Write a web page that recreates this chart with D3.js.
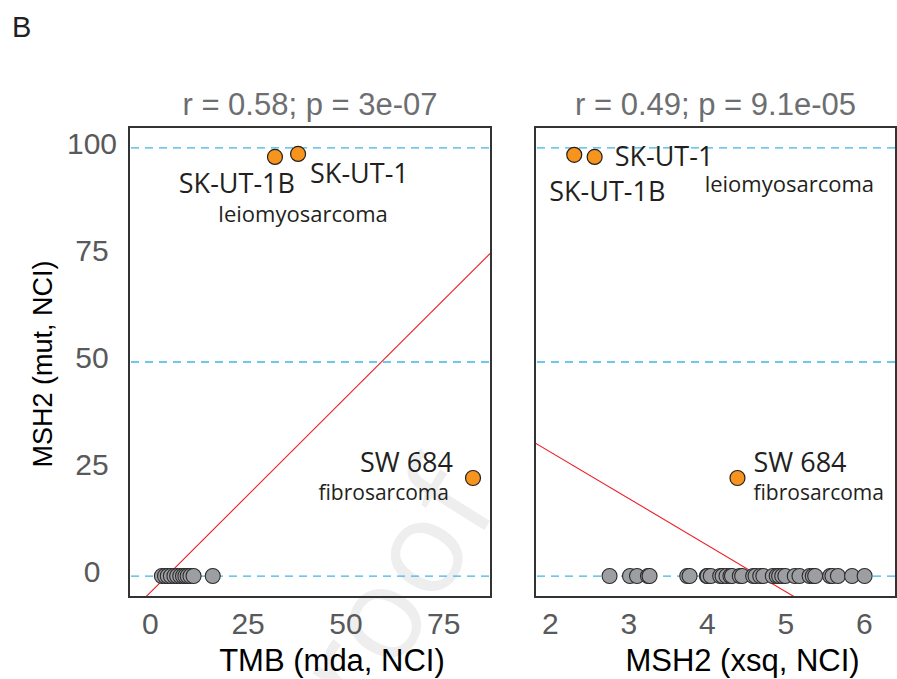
<!DOCTYPE html>
<html>
<head>
<meta charset="utf-8">
<script src="https://cdn.jsdelivr.net/npm/d3@7"></script>
<style>
  body { margin: 0; background: #fff; }
  svg text { font-family: "Liberation Sans", Arial, sans-serif; }
  .lab { font-family: "Open Sans", "Noto Sans", sans-serif !important; fill: #231f20; }
</style>
</head>
<body>
<div id="chart"></div>
<script>
// y = MSH2 mutation (NCI); left x = TMB (mda), right x = MSH2 expression (xsq)
const yTicks = [0, 25, 50, 75, 100];
const refLines = [0, 50, 100];

const tmbTicks = [0, 25, 50, 75];
const tmbGray = [3.1, 3.9, 4.6, 5.4, 6.3, 7.0, 7.8, 8.5, 9.1, 9.7, 10.4, 11.2, 16.1];
const tmbHits = [
  { name: "SK-UT-1B", x: 32.0, y: 97.9 },
  { name: "SK-UT-1", x: 37.9, y: 98.6 },
  { name: "SW 684", x: 82.6, y: 22.9 }
];
const tmbFit = { a: -3.97, b: 0.912 };
const tmbStat = "r = 0.58; p = 3e-07";

const xsqTicks = [2, 3, 4, 5, 6];
const xsqGray = [2.76, 3.02, 3.11, 3.25, 3.27, 3.75, 3.78, 4.0, 4.01, 4.05, 4.17, 4.2, 4.25,
  4.3, 4.32, 4.42, 4.45, 4.59, 4.62, 4.68, 4.72, 4.84, 4.89, 4.92, 4.96, 5.0, 5.12, 5.18,
  5.31, 5.35, 5.38, 5.57, 5.6, 5.67, 5.85, 6.01];
const xsqHits = [
  { name: "SK-UT-1B", x: 2.31, y: 98.4 },
  { name: "SK-UT-1", x: 2.57, y: 97.9 },
  { name: "SW 684", x: 4.39, y: 22.9 }
];
const xsqFit = { a: 50.8, b: -10.88 };
const xsqStat = "r = 0.49; p = 9.1e-05";

const W = 897, H = 679;
const plotTop = 127, plotBottom = 597;

const svg = d3.select("#chart").append("svg")
    .attr("width", W)
    .attr("height", H);

// faint watermark behind everything
svg.append("text")
    .attr("transform", "translate(500,505) rotate(-58)")
    .attr("text-anchor", "end")
    .style("font-size", "130px")
    .style("font-family", "'Open Sans', sans-serif")
    .style("fill", "#eeeeee")
    .text("Proof");

svg.append("text")
    .attr("x", 12).attr("y", 37)
    .style("font-size", "29px")
    .style("fill", "#231f20")
    .text("B");

const y = d3.scaleLinear().domain([-4.9, 104.9]).range([plotBottom, plotTop]);

function panel(id, left, right, domain, ticks, gray, hits, fit, stat, xTitle, showY) {
    const x = d3.scaleLinear().domain(domain).range([left, right]);
    const g = svg.append("g");

    g.append("clipPath").attr("id", id)
        .append("rect")
        .attr("x", left).attr("y", plotTop)
        .attr("width", right - left).attr("height", plotBottom - plotTop);

    g.selectAll(".ref")
        .data(refLines)
        .enter().append("line")
        .attr("x1", left + 2).attr("x2", right - 1)
        .attr("y1", d => y(d)).attr("y2", d => y(d))
        .attr("stroke", "#3fb6e8")
        .attr("stroke-width", 1.3)
        .attr("stroke-dasharray", "8,6");

    // regression line
    g.append("line")
        .attr("clip-path", `url(#${id})`)
        .attr("x1", x(domain[0])).attr("y1", y(fit.a + fit.b * domain[0]))
        .attr("x2", x(domain[1])).attr("y2", y(fit.a + fit.b * domain[1]))
        .attr("stroke", "#ed1c24")
        .attr("stroke-width", 1.1);

    g.selectAll(".gray")
        .data(gray)
        .enter().append("circle")
        .attr("cx", d => x(d))
        .attr("cy", y(0))
        .attr("r", 7.5)
        .attr("fill", "#9d9ea2")
        .attr("stroke", "#2b2b2b")
        .attr("stroke-width", 1.1);

    g.selectAll(".hit")
        .data(hits)
        .enter().append("circle")
        .attr("cx", d => x(d.x))
        .attr("cy", d => y(d.y))
        .attr("r", 7.5)
        .attr("fill", "#f7941d")
        .attr("stroke", "#231f20")
        .attr("stroke-width", 1.2);

    g.append("rect")
        .attr("x", left).attr("y", plotTop)
        .attr("width", right - left).attr("height", plotBottom - plotTop)
        .attr("fill", "none")
        .attr("stroke", "#333")
        .attr("stroke-width", 2);

    g.append("text")
        .attr("x", (left + right) / 2).attr("y", 115)
        .attr("text-anchor", "middle")
        .style("font-size", "31px")
        .style("fill", "#6d6e71")
        .text(stat);

    const xAxis = d3.axisBottom(x).tickValues(ticks).tickFormat(d3.format("d"))
        .tickSize(0).tickPadding(0);
    g.append("g")
        .attr("transform", `translate(0,${plotBottom})`)
        .call(xAxis)
        .call(a => a.select(".domain").remove())
        .selectAll("text")
        .attr("dy", null)
        .attr("y", 37)
        .style("font-size", "30px")
        .style("font-family", "'Liberation Sans', Arial, sans-serif")
        .style("fill", "#58595b");

    g.append("text")
        .attr("x", (left + right) / 2 + (showY ? 22 : 27)).attr("y", 671)
        .attr("text-anchor", "middle")
        .style("font-size", "31px")
        .style("fill", "#000")
        .text(xTitle);

    if (showY) {
        const yAxis = d3.axisLeft(y).tickValues(yTicks).tickSize(0).tickPadding(0);
        g.append("g")
            .attr("transform", "translate(92,0)")
            .call(yAxis)
            .call(a => a.select(".domain").remove())
            .selectAll("text")
            .attr("text-anchor", "middle")
            .attr("x", 0)
            .attr("dy", "0.32em")
            .attr("y", -4)
            .style("font-size", "30px")
            .style("font-family", "'Liberation Sans', Arial, sans-serif")
            .style("fill", "#58595b");

        g.append("text")
            .attr("transform", "translate(52,364) rotate(-90)")
            .attr("text-anchor", "middle")
            .style("font-size", "27px")
            .style("fill", "#000")
            .text("MSH2 (mut, NCI)");
    }
    return x;
}

const xL = panel("clipL", 129, 491, [-5.3, 87.2], tmbTicks, tmbGray, tmbHits, tmbFit, tmbStat, "TMB (mda, NCI)", true);
const xR = panel("clipR", 535, 896, [1.81, 6.41], xsqTicks, xsqGray, xsqHits, xsqFit, xsqStat, "MSH2 (xsq, NCI)", false);

// annotations, anchored to the points they name
function label(px, py, txt, size, anchor) {
    svg.append("text")
        .attr("class", "lab")
        .attr("x", px).attr("y", py)
        .attr("text-anchor", anchor)
        .style("font-size", size + "px")
        .text(txt);
}

// left panel
label(xL(tmbHits[0].x) + 20, y(tmbHits[0].y) + 36, "SK-UT-1B", 27, "end");
label(xL(tmbHits[1].x) + 12, y(tmbHits[1].y) + 29, "SK-UT-1", 27, "start");
label(xL(tmbHits[1].x) + 5, y(tmbHits[1].y) + 68, "leiomyosarcoma", 22, "middle");
label(xL(tmbHits[2].x) - 20, y(tmbHits[2].y) - 6, "SW 684", 27, "end");
label(xL(tmbHits[2].x) - 24, y(tmbHits[2].y) + 22, "fibrosarcoma", 21, "end");

// right panel
label(xR(xsqHits[1].x) + 20, y(xsqHits[1].y) + 9, "SK-UT-1", 27, "start");
label(xR(xsqHits[0].x) - 25, y(xsqHits[0].y) + 46, "SK-UT-1B", 27, "start");
label(xR(xsqHits[1].x) + 110, y(xsqHits[1].y) + 35, "leiomyosarcoma", 22, "start");
label(xR(xsqHits[2].x) + 16, y(xsqHits[2].y) - 6, "SW 684", 27, "start");
label(xR(xsqHits[2].x) + 16, y(xsqHits[2].y) + 22, "fibrosarcoma", 21, "start");
</script>
</body>
</html>
